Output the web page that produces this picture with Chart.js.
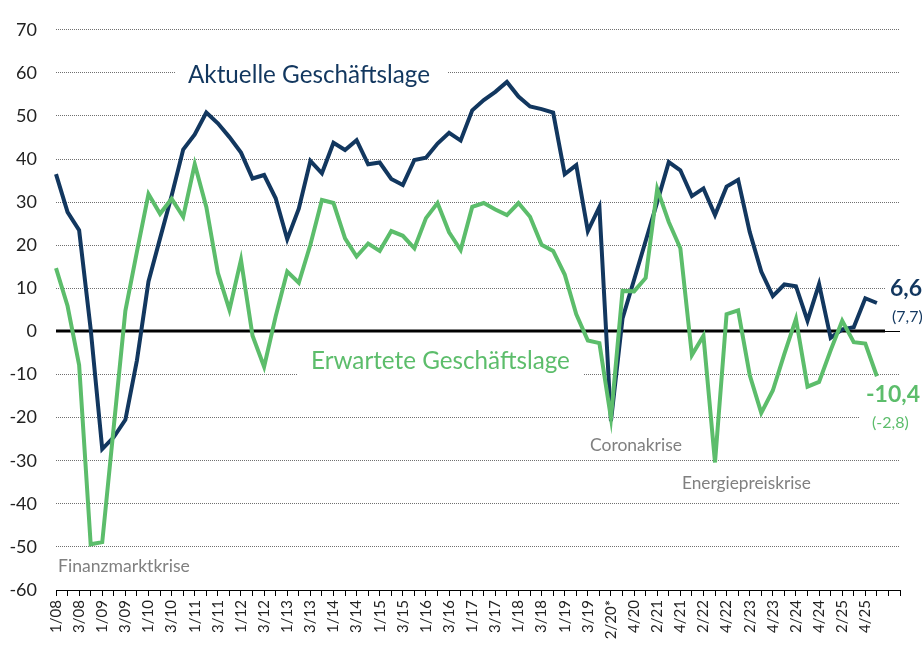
<!DOCTYPE html>
<html lang="de">
<head>
<meta charset="utf-8">
<title>Geschäftslage</title>
<script src="https://cdn.jsdelivr.net/npm/chart.js@4.4.1/dist/chart.umd.min.js"></script>
<style>
  html, body { margin: 0; padding: 0; background: #fff; }
  #wrap { width: 922px; height: 650px; position: relative; }
</style>
</head>
<body>
<div id="wrap"><canvas id="chart"></canvas></div>
<script>
// Umfragezeitpunkte (Quartal/Jahr), jeder zweite wird beschriftet
const quarters = [
    '1/08', '2/08', '3/08', '4/08', '1/09', '2/09', '3/09', '4/09',
    '1/10', '2/10', '3/10', '4/10', '1/11', '2/11', '3/11', '4/11',
    '1/12', '2/12', '3/12', '4/12', '1/13', '2/13', '3/13', '4/13',
    '1/14', '2/14', '3/14', '4/14', '1/15', '2/15', '3/15', '4/15',
    '1/16', '2/16', '3/16', '4/16', '1/17', '2/17', '3/17', '4/17',
    '1/18', '2/18', '3/18', '4/18', '1/19', '2/19', '3/19', '4/19',
    '2/20*', '3/20', '4/20', '1/21', '2/21', '3/21', '4/21', '1/22',
    '2/22', '3/22', '4/22', '1/23', '2/23', '3/23', '4/23', '1/24',
    '2/24', '3/24', '4/24', '1/25', '2/25', '3/25', '4/25', '1/26'
];
// leere Plätze am rechten Achsenende
const axisPad = ['', ''];

// Aktuelle Geschäftslage (Saldo)
const aktuell = [
    36.5, 27.7, 23.5, 0.5, -27.3, -24.5, -20.5, -6.7,
    11.6, 21.6, 31.5, 42.2, 45.7, 50.8, 48.3, 45.1,
    41.5, 35.5, 36.3, 30.9, 21.4, 28.5, 39.6, 36.7,
    43.8, 42.1, 44.4, 38.8, 39.2, 35.4, 34.0, 39.8,
    40.3, 43.6, 46.1, 44.3, 51.3, 53.7, 55.6, 57.9,
    54.5, 52.2, 51.6, 50.8, 36.5, 38.6, 23.3, 28.9,
    -20.8, 3.0, 12.0, 21.0, 30.0, 39.3, 37.4, 31.4,
    33.2, 27.0, 33.6, 35.2, 23.1, 13.9, 8.2, 10.9,
    10.5, 2.5, 11.0, -1.5, 0.5, 1.0, 7.7, 6.6
];

// Erwartete Geschäftslage (Saldo)
const erwartet = [
    14.7, 5.9, -7.8, -49.4, -48.9, -22.0, 4.8, 18.5,
    31.9, 27.3, 30.8, 26.6, 38.8, 28.9, 13.6, 5.0,
    16.6, -1.0, -8.2, 3.5, 13.9, 11.3, 20.1, 30.5,
    29.8, 21.6, 17.4, 20.4, 18.7, 23.3, 22.2, 19.3,
    26.3, 29.8, 23.0, 18.9, 28.9, 29.8, 28.3, 27.0,
    29.8, 26.6, 20.1, 18.7, 13.2, 4.0, -2.1, -2.7,
    -20.1, 9.4, 9.3, 12.4, 33.1, 25.4, 19.3, -5.5,
    -1.0, -30.4, 4.0, 4.9, -10.1, -18.9, -13.7, -5.2,
    2.9, -12.8, -11.7, -4.4, 2.5, -2.5, -2.8, -10.4
];

const Y_MIN = -60;
const Y_MAX = 70;
const Y_STEP = 10;

const BLUE = '#12375f';
const GREEN = '#5cbd6b';
const GREY = '#808080';
const FONT = 'Lato, "Open Sans", sans-serif';

const axisLabels = quarters.concat(axisPad);

// Beschriftungen im Diagramm (x = linker Rand, y = Grundlinie, w = Zielbreite)
const notes = [
    { text: 'Aktuelle Geschäftslage', x: 188, y: 82.5, w: 242, color: BLUE, bg: [176, 58, 272, 34] },
    { text: 'Erwartete Geschäftslage', x: 311, y: 369, w: 259, color: GREEN, bg: [297, 346, 287, 32] },
    { text: 'Finanzmarktkrise', x: 58, y: 571.5, w: 132, color: GREY },
    { text: 'Coronakrise', x: 590, y: 451, w: 92, color: GREY },
    { text: 'Energiepreiskrise', x: 682, y: 489, w: 129, color: GREY },
    { text: '6,6', x: 890, y: 295.5, size: 23, bold: true, color: BLUE, bg: [885, 270, 40, 30] },
    { text: '(7,7)', x: 892, y: 322, size: 16, color: BLUE },
    { text: '-10,4', x: 866, y: 401.5, size: 23, bold: true, color: GREEN, bg: [860, 378, 62, 56] },
    { text: '(-2,8)', x: 872, y: 427.5, size: 16, color: GREEN }
];

const notesPlugin = {
    id: 'notes',
    beforeDatasetsDraw(chart) {
        const { ctx, chartArea, scales } = chart;
        const y0 = Math.round(scales.y.getPixelForValue(0));
        ctx.save();

        // Nulllinie: dick bis kurz vor die Endwerte, danach dünn
        ctx.strokeStyle = '#000';
        ctx.lineWidth = 3;
        ctx.beginPath();
        ctx.moveTo(chartArea.left, y0);
        ctx.lineTo(885, y0);
        ctx.stroke();
        ctx.lineWidth = 1;
        ctx.beginPath();
        ctx.moveTo(885, y0 + 0.5);
        ctx.lineTo(chartArea.right, y0 + 0.5);
        ctx.stroke();

        notes.forEach(n => {
            if (n.bg) {
                ctx.fillStyle = '#fff';
                ctx.fillRect(n.bg[0], n.bg[1], n.bg[2], n.bg[3]);
            }
        });

        notes.forEach(n => {
            let size = n.size || 20;
            const weight = n.bold ? 'bold' : 'normal';
            ctx.font = `${weight} ${size}px ${FONT}`;
            if (n.w) {
                size = size * n.w / ctx.measureText(n.text).width;
                ctx.font = `${weight} ${size.toFixed(2)}px ${FONT}`;
            }
            ctx.fillStyle = n.color;
            ctx.textAlign = 'left';
            ctx.textBaseline = 'alphabetic';
            ctx.fillText(n.text, n.x, n.y);
        });
        ctx.restore();
    }
};

new Chart(document.getElementById('chart'), {
    type: 'line',
    data: {
        labels: axisLabels,
        datasets: [
            {
                label: 'Aktuelle Geschäftslage',
                data: aktuell,
                borderColor: BLUE,
                borderWidth: 4,
                pointRadius: 0,
                tension: 0,
                fill: false,
                order: 2
            },
            {
                label: 'Erwartete Geschäftslage',
                data: erwartet,
                borderColor: GREEN,
                borderWidth: 4,
                pointRadius: 0,
                tension: 0,
                fill: false,
                order: 1
            }
        ]
    },
    options: {
        responsive: true,
        maintainAspectRatio: false,
        animation: false,
        layout: {
            padding: { top: 23, right: 22, bottom: 0, left: 0 }
        },
        plugins: {
            legend: { display: false },
            tooltip: { enabled: false }
        },
        scales: {
            x: {
                type: 'category',
                offset: false,
                grid: {
                    drawOnChartArea: false,
                    drawTicks: true,
                    tickLength: 6,
                    color: '#000'
                },
                border: { display: true, color: '#000', width: 1 },
                ticks: {
                    autoSkip: false,
                    minRotation: 90,
                    maxRotation: 90,
                    padding: 4,
                    color: '#222',
                    font: { family: FONT, size: 15 },
                    callback: (value, index) => index % 2 === 0 ? axisLabels[index] : ''
                },
                afterFit: scale => { scale.height = 60; }
            },
            y: {
                min: Y_MIN,
                max: Y_MAX,
                grid: {
                    drawTicks: false,
                    color: ctx => ctx.tick.value === 0 ? 'rgba(0,0,0,0)' : '#707070',
                    lineWidth: 1
                },
                border: { display: false, dash: [1, 1] },
                ticks: {
                    stepSize: Y_STEP,
                    padding: 19,
                    color: '#222',
                    font: { family: FONT, size: 18 }
                },
                afterFit: scale => { scale.width = 56; }
            }
        }
    },
    plugins: [notesPlugin]
});
</script>
</body>
</html>
